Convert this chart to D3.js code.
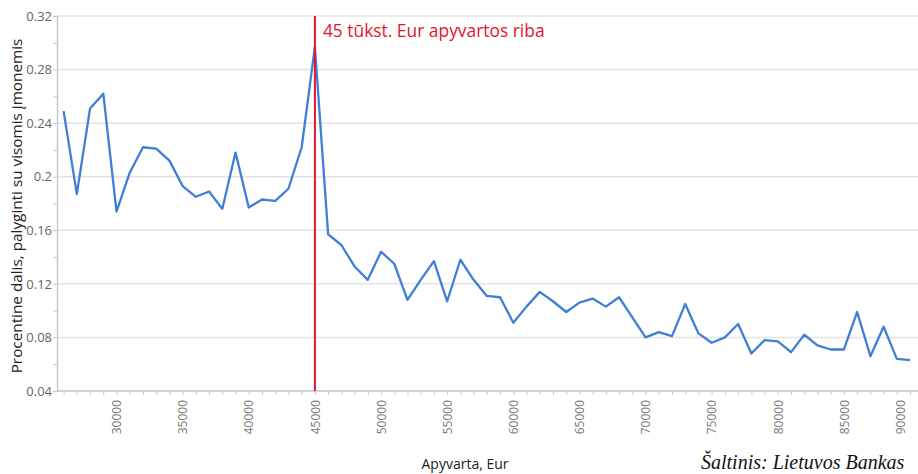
<!DOCTYPE html>
<html>
<head>
<meta charset="utf-8">
<script src="https://cdn.jsdelivr.net/npm/d3@7"></script>
<style>
  body { margin: 0; background: #fff; }
  text { font-family: "Open Sans", "Noto Sans", sans-serif; }
</style>
</head>
<body>
<div id="chart"></div>
<script>
// turnover steps, Eur
var turnover = d3.range(26000, 90001, 1000);
// share compared with all companies
var share = [
  0.249, 0.187, 0.251, 0.262, 0.174, 0.203, 0.222, 0.221, 0.212, 0.193,
  0.185, 0.189, 0.176, 0.218, 0.177, 0.183, 0.182, 0.191, 0.222, 0.297,
  0.157, 0.149, 0.133, 0.123, 0.144, 0.135, 0.108, 0.123, 0.137, 0.107,
  0.138, 0.123, 0.111, 0.110, 0.091, 0.103, 0.114, 0.107, 0.099, 0.106,
  0.109, 0.103, 0.110, 0.095, 0.080, 0.084, 0.081, 0.105, 0.083, 0.076,
  0.080, 0.090, 0.068, 0.078, 0.077, 0.069, 0.082, 0.074, 0.071, 0.071,
  0.099, 0.066, 0.088, 0.064, 0.063
];
var yTicks = [0.04, 0.08, 0.12, 0.16, 0.2, 0.24, 0.28, 0.32];
var xTicks = [30000, 35000, 40000, 45000, 50000, 55000, 60000, 65000, 70000, 75000, 80000, 85000, 90000];
var threshold = 45000;
var thresholdLabel = "45 tūkst. Eur apyvartos riba";

var data = turnover.map(function(t, i) { return {x: t, y: share[i]}; });

var W = 918, H = 474;
var margin = {top: 16, right: 0, bottom: 83, left: 57};

var svg = d3.select("#chart").append("svg")
    .attr("width", W)
    .attr("height", H);

var x = d3.scaleLinear()
    .domain([25500, 90600])
    .range([margin.left, W - margin.right]);

var y = d3.scaleLinear()
    .domain([0.04, 0.32])
    .range([H - margin.bottom, margin.top]);

// gridlines
svg.append("g")
  .selectAll("line")
  .data(yTicks)
  .enter().append("line")
    .attr("x1", margin.left).attr("x2", W)
    .attr("y1", function(d) { return y(d); })
    .attr("y2", function(d) { return y(d); })
    .attr("stroke", "#e4e4e4")
    .attr("stroke-width", 1.5);

// y axis with minor ticks
var yAxis = svg.append("g")
    .attr("transform", "translate(" + margin.left + ",0)")
    .call(d3.axisLeft(y).tickValues(d3.range(0.04, 0.321, 0.02)).tickSize(4)
      .tickFormat(function(d) { var r = Math.round(d * 100); return r % 4 === 0 ? d3.format("")(r / 100) : ""; }));
yAxis.select(".domain").attr("stroke", "#c5cad3").attr("stroke-width", 1.5);
yAxis.selectAll(".tick line").attr("stroke", "#c5cad3");
yAxis.selectAll(".tick text").attr("fill", "#666").style("font-size", "13px").attr("x", -5);

// x axis, minor ticks every 1000
var xAxis = svg.append("g")
    .attr("transform", "translate(0," + y(0.04) + ")")
    .call(d3.axisBottom(x).tickValues(turnover).tickSize(4).tickSizeOuter(0)
      .tickFormat(function(d) { return xTicks.indexOf(d) >= 0 ? d : ""; }));
xAxis.select(".domain").attr("stroke", "#c5cad3").attr("stroke-width", 1.5)
    .attr("d", "M" + margin.left + ",0H" + W);
xAxis.selectAll(".tick line").attr("stroke", "#c5cad3");
xAxis.selectAll(".tick text")
    .attr("fill", "#777")
    .style("font-size", "12px")
    .attr("transform", "rotate(-90)")
    .attr("text-anchor", "end")
    .attr("x", -9)
    .attr("y", 0)
    .attr("dy", "0.35em");
// last label is pushed inside the frame
xAxis.selectAll(".tick").filter(function(d) { return d === 90000; })
    .select("text").attr("dy", "-0.5em");

// line
svg.append("path")
    .datum(data)
    .attr("fill", "none")
    .attr("stroke", "#3f7fd6")
    .attr("stroke-width", 2.3)
    .attr("stroke-linejoin", "round")
    .attr("d", d3.line()
      .x(function(d) { return x(d.x); })
      .y(function(d) { return y(d.y); }));

// threshold line
svg.append("line")
    .attr("x1", x(threshold)).attr("x2", x(threshold))
    .attr("y1", y(0.32)).attr("y2", y(0.04))
    .attr("stroke", "#e3162b")
    .attr("stroke-width", 2);

svg.append("text")
    .attr("x", x(threshold) + 8)
    .attr("y", 36.5)
    .attr("fill", "#e3162b")
    .style("font-size", "17.4px")
    .text(thresholdLabel);

// axis titles
svg.append("text")
    .attr("transform", "translate(22,206) rotate(-90)")
    .attr("text-anchor", "middle")
    .attr("fill", "#222")
    .style("font-size", "15.3px")
    .text("Procentine dalis, palyginti su visomis įmonemis");

svg.append("text")
    .attr("x", 465)
    .attr("y", 469)
    .attr("text-anchor", "middle")
    .attr("fill", "#222")
    .style("font-size", "14px")
    .text("Apyvarta, Eur");

svg.append("text")
    .attr("x", 701)
    .attr("y", 469)
    .attr("fill", "#111")
    .style("font-family", "'Liberation Serif', 'DejaVu Serif', serif")
    .style("font-style", "italic")
    .style("font-size", "20px")
    .text("Šaltinis: Lietuvos Bankas");
</script>
</body>
</html>
